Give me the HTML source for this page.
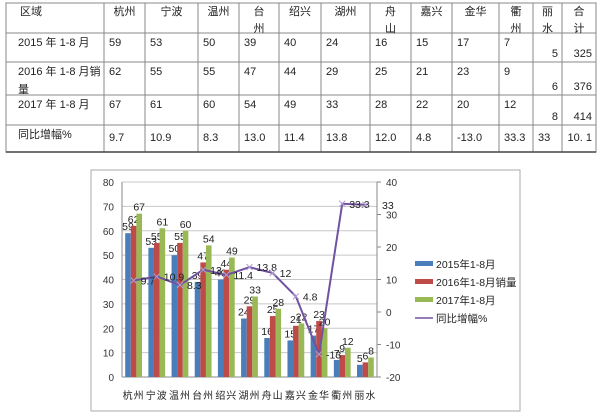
<!DOCTYPE html>
<html><head><meta charset="utf-8"><style>
body{margin:0;background:#fff;width:600px;height:416px;overflow:hidden;font-family:"Liberation Sans","Noto Sans CJK SC",sans-serif}
svg{position:absolute;left:0;top:0}
</style></head><body>
<svg id="s" width="600" height="416" xmlns="http://www.w3.org/2000/svg" font-family="Liberation Sans, Noto Sans CJK SC, sans-serif"></svg>
<script>
var s=document.getElementById('s'),h='';
var xs=[6,104,145,198,239,279,321,370,411,452,499,533,562,596],ys=[3,33,62,95,125,152];
h+='<rect x="6" y="3" width="590" height="149" fill="none" stroke="#555" stroke-width="1"/>';
xs.forEach(function(x){h+='<line x1="'+x+'" y1="3" x2="'+x+'" y2="152" stroke="#888"/>';});
ys.forEach(function(y){h+='<line x1="6" y1="'+y+'" x2="596" y2="'+y+'" stroke="#888"/>';});
h+='<line x1="6" y1="152" x2="596" y2="152" stroke="#444" stroke-width="1.5"/>';
function t(x,y,str,sz,anc,col,ex){return '<text x="'+x+'" y="'+y+'" font-size="'+(sz||11)+'" fill="'+(col||'#222')+'" text-anchor="'+(anc||'start')+'" '+(ex||'')+'>'+str+'</text>';}
var heads=['杭州','宁波','温州','台|州','绍兴','湖州','舟|山','嘉兴','金华','衢|州','丽|水','合|计'];
h+=t(20,15,'区域');
heads.forEach(function(c,i){var cx=(xs[i+1]+xs[i+2])/2,p=c.split('|');h+=t(cx,15,p[0],11,'middle');if(p[1])h+=t(cx,32,p[1],11,'middle');});
var rows=[['2015 年 1-8 月',59,53,50,39,40,24,16,15,17,7,5,325],['2016 年 1-8 月销','62',55,55,47,44,29,25,21,23,9,6,376],['2017 年 1-8 月',67,61,60,54,49,33,28,22,20,12,8,414],['同比增幅%','9.7','10.9','8.3','13.0','11.4','13.8','12.0','4.8','-13.0','33.3','33','10. 1']];
rows.forEach(function(r,ri){var y=ys[ri+1]+13;h+=t(18,y,r[0]);if(ri==1)h+=t(18,y+18,'量');
for(var i=1;i<r.length;i++){var x=xs[i]+5;if(ri<3&&i>=11){h+=t(xs[i+1]-4,ys[ri+2]-5,r[i],11,'end');}else if(ri==3&&i==12){h+=t(xs[i+1]-4,y+3,r[i],11,'end');}else h+=t(x,ri==3?y+3:y,r[i]);}});
h+='<rect x="91" y="170" width="429" height="241" fill="#fff" stroke="#aaa"/>';
var L=122,R=377,B=377,T=182,cw=(R-L)/11;
function yl(v){return B-v*(B-T)/80;} function yr(v){return B-(v+20)*(B-T)/60;}
for(var v=0;v<=80;v+=10){h+='<line x1="'+L+'" y1="'+yl(v)+'" x2="'+R+'" y2="'+yl(v)+'" stroke="#c8c8c8"/>';h+=t(L-8,yl(v)+4,v,10,'end','#333');}
for(var v=-20;v<=40;v+=10){h+=t(386,yr(v)+4,v,10,'start','#333');h+='<line x1="'+R+'" y1="'+yr(v)+'" x2="'+(R+4)+'" y2="'+yr(v)+'" stroke="#888"/>';}
h+='<line x1="'+L+'" y1="'+T+'" x2="'+L+'" y2="'+B+'" stroke="#888"/><line x1="'+R+'" y1="'+T+'" x2="'+R+'" y2="'+B+'" stroke="#888"/><line x1="'+L+'" y1="'+B+'" x2="'+R+'" y2="'+B+'" stroke="#888"/>';
var cats=['杭州','宁波','温州','台州','绍兴','湖州','舟山','嘉兴','金华','衢州','丽水'];
var d=[[59,53,50,39,40,24,16,15,17,7,5],[62,55,55,47,44,29,25,21,23,9,6],[67,61,60,54,49,33,28,22,20,12,8]];
var g=[9.7,10.9,8.3,13.0,11.4,13.8,12,4.8,-13,33.3,33];
var cols=['#4a7ebb','#be4b48','#98b954'],bw=5.6;
cats.forEach(function(c,i){var cx=L+cw*(i+0.5);h+=t(cx,399,c,10,'middle','#222','letter-spacing="1"');
for(var k=0;k<3;k++){var x=cx-bw*1.5+k*bw,y=yl(d[k][i]);h+='<rect x="'+x+'" y="'+y+'" width="'+bw+'" height="'+(B-y)+'" fill="'+cols[k]+'"/>';h+=t(x+bw/2,y-3,d[k][i],10.5,'middle','#222');}});
var pts=g.map(function(v,i){return (L+cw*(i+0.5))+','+yr(v);}).join(' ');
h+='<polyline points="'+pts+'" fill="none" stroke="#7152a0" stroke-width="2"/>';
g.forEach(function(v,i){var cx=L+cw*(i+0.5),y=yr(v);h+='<path d="M'+(cx-3)+' '+(y-3)+'L'+(cx+3)+' '+(y+3)+'M'+(cx+3)+' '+(y-3)+'L'+(cx-3)+' '+(y+3)+'" stroke="#b0a0d0" stroke-width="1"/>';h+=t(cx+7,y+4,i==10?'':(i==6?'12':v),10.5,'start','#222');});
h+=t(R+5,yr(33)+4,'33',10.5,'start','#222');
var lg=[['2015年1-8月',0],['2016年1-8月销量',1],['2017年1-8月',2],['同比增幅%',3]];
lg.forEach(function(l,i){var y=264+i*18;if(i<3)h+='<rect x="415" y="'+(y-3)+'" width="18" height="5" fill="'+cols[i]+'"/>';else h+='<line x1="415" y1="'+y+'" x2="433" y2="'+y+'" stroke="#7152a0" stroke-width="1.5"/>';h+=t(436,y+4,l[0],10.5,'start','#222');});
s.innerHTML=h;
</script>
</body></html>
